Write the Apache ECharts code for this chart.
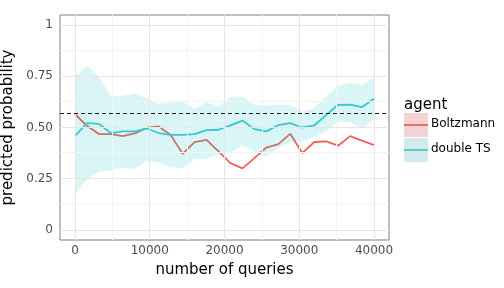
<!DOCTYPE html>
<html>
<head>
<meta charset="utf-8">
<script src="https://cdn.jsdelivr.net/npm/echarts@6/dist/echarts.min.js"></script>
<style>html,body{margin:0;padding:0;background:#fff}#c{width:504px;height:288px}</style>
</head>
<body>
<div id="c"></div>
<script>
var queries = [0,1600,3200,4800,6400,8000,9600,11200,12800,14400,16000,17600,19200,20800,22400,24000,25600,27200,28800,30400,32000,33600,35200,36800,38400,40000];
var boltzmann = [0.566,0.508,0.468,0.468,0.458,0.471,0.499,0.505,0.464,0.371,0.429,0.440,0.383,0.326,0.300,0.350,0.402,0.419,0.469,0.375,0.429,0.432,0.411,0.458,0.436,0.414];
var doubleTS = [0.458,0.521,0.518,0.473,0.481,0.481,0.495,0.473,0.464,0.464,0.468,0.487,0.489,0.510,0.534,0.492,0.481,0.512,0.521,0.500,0.510,0.562,0.611,0.612,0.600,0.640];
var doubleTSUpper = [0.749,0.802,0.749,0.655,0.655,0.665,0.644,0.616,0.622,0.627,0.591,0.624,0.603,0.650,0.652,0.611,0.608,0.611,0.611,0.578,0.595,0.652,0.704,0.717,0.709,0.744];
var doubleTSLower = [0.174,0.244,0.285,0.290,0.305,0.297,0.337,0.329,0.305,0.302,0.346,0.349,0.367,0.375,0.412,0.383,0.358,0.404,0.429,0.432,0.453,0.480,0.529,0.526,0.494,0.541];
var referenceLevel = 0.572;
var xTicks = [0,10000,20000,30000,40000];
var xMinorTicks = [5000,15000,25000,35000];
var yTicks = [0,0.25,0.5,0.75,1];
var yTickLabels = ['0','0.25','0.50','0.75','1'];
var yMinorTicks = [0.125,0.375,0.625,0.875];
var agents = ['Boltzmann','double TS'];

function pairs(xs, ys){ return xs.map(function(x,i){ return [x, ys[i]]; }); }
var ribbonData = queries.map(function(x,i){ return [x, doubleTSLower[i], doubleTSUpper[i]]; });

var FONT = 'DejaVu Sans';
var chart = echarts.init(document.getElementById('c'), null, {renderer:'canvas'});

var gridLines = [];
xMinorTicks.forEach(function(v){ gridLines.push({xAxis:v, lineStyle:{color:'#f3f3f3', width:1, type:'solid'}}); });
yMinorTicks.forEach(function(v){ gridLines.push({yAxis:v, lineStyle:{color:'#f3f3f3', width:1, type:'solid'}}); });
xTicks.forEach(function(v){ gridLines.push({xAxis:v, lineStyle:{color:'#e6e6e6', width:1, type:'solid'}}); });
yTicks.forEach(function(v){ gridLines.push({yAxis:v, lineStyle:{color:'#e6e6e6', width:1, type:'solid'}}); });

chart.setOption({
  animation:false,
  textStyle:{fontFamily:FONT},
  grid:{left:60, right:115, top:15, bottom:48, outerBoundsMode:'none', containLabel:false,
        show:true, borderColor:'#7f7f7f', borderWidth:1, backgroundColor:'#fff'},
  xAxis:{
    type:'value', min:-2000, max:42000,
    name:'number of queries', nameLocation:'middle', nameGap:23,
    nameTextStyle:{fontFamily:FONT, fontSize:15, color:'#000'},
    axisLine:{show:false},
    axisTick:{show:true, length:4, lineStyle:{color:'#7f7f7f'}, customValues:xTicks},
    axisLabel:{customValues:xTicks, margin:5, fontFamily:FONT, fontSize:12, color:'#4d4d4d', formatter:function(v){return String(v);}},
    splitLine:{show:false}
  },
  yAxis:{
    type:'value', min:-0.05, max:1.05,
    name:'predicted probability', nameLocation:'middle', nameGap:41,
    nameTextStyle:{fontFamily:FONT, fontSize:15, color:'#000'},
    axisLine:{show:false},
    axisTick:{show:true, length:4, lineStyle:{color:'#7f7f7f'}, customValues:yTicks},
    axisLabel:{customValues:yTicks, margin:7, fontFamily:FONT, fontSize:12, color:'#4d4d4d', formatter:function(v){
      for (var i=0;i<yTicks.length;i++){ if (Math.abs(yTicks[i]-v)<1e-9) return yTickLabels[i]; }
      return '';
    }},
    splitLine:{show:false}
  },
  series:[
    {type:'line', name:'grid', data:[], z:1, silent:true,
     markLine:{silent:true, symbol:['none','none'], label:{show:false}, animation:false, data:gridLines}},
    {type:'line', name:agents[0], data:pairs(queries, boltzmann), showSymbol:false, z:3,
     lineStyle:{color:'#ea645b', width:1.8}, itemStyle:{color:'#ea645b'}},
    {type:'line', name:agents[1], data:pairs(queries, doubleTS), showSymbol:false, z:3,
     lineStyle:{color:'#3dcdd2', width:1.8}, itemStyle:{color:'#3dcdd2'}},
    {type:'custom', name:'ribbon', data:ribbonData, z:4, silent:true,
     encode:{x:0, y:[1,2]},
     renderItem:function(params, api){
       if (params.dataIndex !== 0) return null;
       var pts = [];
       for (var i=0;i<ribbonData.length;i++){ pts.push(api.coord([ribbonData[i][0], ribbonData[i][2]])); }
       for (var j=ribbonData.length-1;j>=0;j--){ pts.push(api.coord([ribbonData[j][0], ribbonData[j][1]])); }
       return {type:'polygon', shape:{points:pts}, style:{fill:'rgba(0,191,196,0.15)'}};
     }},
    {type:'line', name:'ref', data:[], z:5, silent:true,
     markLine:{silent:true, symbol:['none','none'], label:{show:false}, animation:false,
       data:[{yAxis:referenceLevel, lineStyle:{color:'#000', width:0.9, type:[4,3]}}]}}
  ],
  graphic:[
    {type:'text', left:404, top:98, style:{text:'agent', font:'15px "DejaVu Sans"', fill:'#000'}},
    {type:'rect', shape:{x:404, y:113, width:24, height:24}, style:{fill:'#f3d3d2'}},
    {type:'line', shape:{x1:404, y1:125, x2:428, y2:125}, style:{stroke:'#e8625a', lineWidth:1.8}},
    {type:'rect', shape:{x:404, y:138, width:24, height:24}, style:{fill:'#d2eaeb'}},
    {type:'line', shape:{x1:404, y1:150, x2:428, y2:150}, style:{stroke:'#3fcbd0', lineWidth:1.8}},
    {type:'text', left:431, top:118, style:{text:agents[0], font:'12px "DejaVu Sans"', fill:'#000'}},
    {type:'text', left:431, top:143, style:{text:agents[1], font:'12px "DejaVu Sans"', fill:'#000'}}
  ]
});
</script>
</body>
</html>
